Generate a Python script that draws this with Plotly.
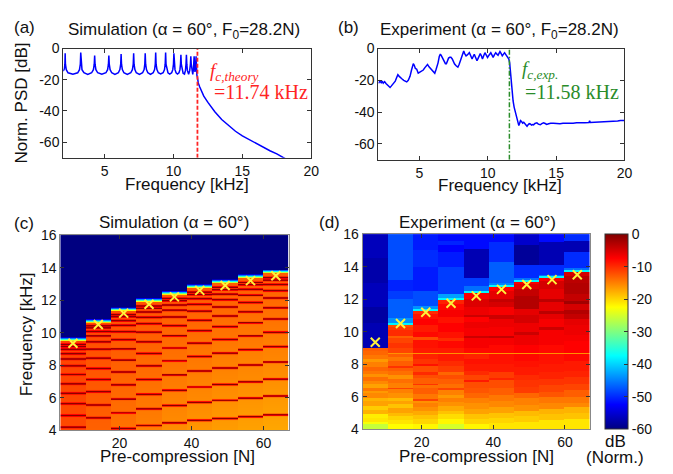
import math
import numpy as np
import plotly.graph_objects as go

W, H = 673, 474


def px(x):
    return x / W


def py(y):
    return 1 - y / H


# ---------------- panel (a): simulated PSD ----------------
sim_psd_freq_kHz = [
    2.00, 2.08, 2.12, 2.14, 2.16, 2.22, 2.35, 2.70, 3.05, 3.18, 3.24, 3.27, 3.30, 3.36,
    3.50, 3.78, 4.06, 4.19, 4.25, 4.28, 4.31, 4.37, 4.50, 4.80, 5.10, 5.22, 5.28, 5.31,
    5.34, 5.40, 5.52, 5.75, 6.00, 6.11, 6.17, 6.20, 6.23, 6.29, 6.40, 6.65, 6.90, 7.02,
    7.08, 7.11, 7.14, 7.20, 7.30, 7.53, 7.76, 7.87, 7.92, 7.95, 7.98, 8.04, 8.14, 8.33,
    8.53, 8.63, 8.68, 8.71, 8.74, 8.80, 8.90, 9.07, 9.25, 9.35, 9.40, 9.43, 9.46, 9.52,
    9.60, 9.73, 9.87, 9.95, 10.00, 10.03, 10.06, 10.11, 10.19, 10.29, 10.40, 10.47,
    10.51, 10.54, 10.57, 10.62, 10.70, 10.80, 10.87, 10.91, 10.94, 10.97, 11.01, 11.10,
    11.18, 11.23, 11.26, 11.29, 11.33, 11.40, 11.45, 11.48, 11.50, 11.52, 11.56, 11.60,
    11.64, 11.67, 11.70, 11.74, 11.75, 11.80, 11.90, 12.00, 12.20, 12.50, 12.75, 13.00,
    13.50, 14.00, 14.50, 15.00, 15.50, 16.00, 16.50, 17.00, 17.50, 18.00, 18.30,
]
sim_psd_db = [
    -14.5, -13.0, -10.0, -3.0, -10.0, -13.5, -15.5, -16.5, -15.5, -13.5, -10.0, -2.5, -10.0, -13.5,
    -15.5, -16.5, -15.5, -13.5, -10.0, -4.5, -10.0, -13.5, -15.5, -16.5, -15.5, -13.5, -10.0, -4.5,
    -10.0, -13.5, -15.5, -16.5, -15.5, -13.5, -10.0, -3.5, -10.0, -13.5, -15.5, -16.5, -15.5, -13.5,
    -10.0, -3.0, -10.0, -13.5, -15.5, -16.5, -15.5, -13.5, -10.0, -3.0, -10.0, -13.5, -15.5, -16.5,
    -15.5, -13.5, -10.0, -2.5, -10.0, -13.5, -15.5, -16.3, -15.5, -13.5, -10.0, -2.5, -10.0, -13.5,
    -15.5, -16.3, -15.5, -13.5, -10.0, -3.0, -10.0, -13.5, -15.5, -16.3, -15.5, -13.5,
    -10.0, -4.0, -10.0, -13.5, -15.8, -16.3, -14.0, -10.0, -4.0, -10.0, -14.0, -16.5,
    -14.0, -10.0, -5.0, -10.0, -14.5, -16.5, -13.0, -9.0, -5.0, -9.0, -15.0, -13.0,
    -5.0, -15.0, -17.0, -18.5, -20.0, -22.0, -24.5, -26.5, -30.5, -34.5, -37.5, -40.5,
    -45.5, -49.5, -53.0, -56.0, -58.5, -61.0, -63.2, -65.5, -67.5, -70.0, -71.5,
]
fc_theory_kHz = 11.74

# ---------------- panel (b): measured PSD ----------------
exp_psd_freq_kHz = [
    2.00, 2.10, 2.20, 2.27, 2.35, 2.45, 2.55, 2.65, 2.75, 2.85, 2.95, 3.05, 3.15, 3.23,
    3.32, 3.42, 3.52, 3.62, 3.71, 3.85, 3.95, 4.07, 4.18, 4.31, 4.42, 4.50, 4.55, 4.62,
    4.70, 4.80, 4.91, 5.00, 5.10, 5.20, 5.28, 5.40, 5.50, 5.59, 5.70, 5.80, 5.88, 6.00,
    6.12, 6.22, 6.30, 6.36, 6.45, 6.53, 6.60, 6.72, 6.82, 6.90, 6.97, 7.05, 7.13, 7.22,
    7.30, 7.40, 7.50, 7.57, 7.70, 7.81, 7.90, 8.00, 8.10, 8.20, 8.24, 8.30, 8.41, 8.50,
    8.58, 8.65, 8.75, 8.85, 8.93, 9.01, 9.10, 9.21, 9.30, 9.38, 9.45, 9.53, 9.61, 9.70,
    9.79, 9.88, 9.98, 10.10, 10.22, 10.30, 10.39, 10.48, 10.58, 10.67, 10.75, 10.82,
    10.89, 10.97, 11.06, 11.15, 11.23, 11.32, 11.42, 11.50, 11.54, 11.60, 11.67, 11.72,
    11.78, 11.85, 11.93, 12.03, 12.12, 12.20, 12.27, 12.33, 12.39, 12.47, 12.55, 12.63,
    12.72, 12.80, 12.87, 12.95, 13.03, 13.11, 13.20, 13.28, 13.35, 13.45, 13.52, 13.59,
    13.70, 13.84, 13.95, 14.08, 14.20, 14.31, 14.45, 14.60, 14.80, 15.00, 15.28, 15.50,
    15.80, 16.00, 16.24, 16.50, 16.80, 17.10, 17.40, 17.45, 17.50, 17.80, 18.10, 18.40,
    18.65, 18.90, 19.20, 19.50, 19.70, 19.86, 20.00,
]
exp_psd_db = [
    -21.9, -20.5, -21.5, -20.5, -21.8, -20.8, -22.0, -23.0, -24.0, -24.5, -23.5, -22.5, -21.5, -20.5,
    -18.5, -16.5, -17.5, -18.5, -19.0, -20.0, -20.5, -21.0, -20.0, -17.5, -13.5, -10.5, -9.5, -10.5,
    -12.5, -13.0, -15.5, -15.0, -14.5, -14.0, -13.5, -12.0, -10.5, -10.0, -11.5, -12.5, -13.0, -14.5,
    -15.5, -13.0, -11.0, -9.0, -5.0, -3.5, -4.5, -6.5, -8.0, -9.5, -9.5, -7.5, -6.0, -5.5,
    -5.5, -6.5, -8.5, -9.7, -11.0, -11.7, -10.0, -7.5, -4.5, -2.0, -1.5, -3.0, -4.6, -4.0,
    -3.0, -2.6, -4.5, -6.6, -5.0, -3.6, -5.5, -7.7, -6.0, -4.0, -3.2, -4.5, -6.6, -4.5,
    -2.6, -4.0, -5.6, -4.0, -2.6, -4.0, -5.6, -4.0, -2.6, -3.5, -4.2, -3.0,
    -1.9, -3.0, -4.6, -3.5, -2.6, -3.8, -5.2, -6.0, -6.6, -9.0, -15.8, -22.0,
    -28.0, -33.0, -37.0, -40.3, -44.0, -46.5, -48.5, -47.0, -45.4, -46.0, -47.0, -46.4,
    -47.5, -48.2, -48.9, -48.0, -47.3, -47.5, -48.2, -47.8, -48.0, -47.2, -46.8, -46.8,
    -47.6, -48.0, -47.3, -46.8, -47.2, -47.8, -47.4, -47.0, -47.0, -47.3, -47.4, -47.1,
    -47.2, -47.0, -47.0, -46.8, -46.9, -46.7, -46.6, -45.5, -46.6, -46.5, -46.4, -46.3,
    -46.2, -46.0, -45.8, -45.6, -45.3, -45.4, -45.3,
]
fc_exp_kHz = 11.58

# ---------------- panels (c)/(d): spectrogram maps ----------------
precomp_N = [7.05, 14.1, 21.15, 28.2, 35.25, 42.3, 49.35, 56.4, 63.45]
cutoff_theory_kHz = [9.35, 10.5, 11.2, 11.75, 12.2, 12.6, 12.9, 13.2, 13.5]

# simulation: top of pass band, pass-band level (bottom/top) and resonance lines
sim_edge_kHz = [9.47, 10.6, 11.32, 11.88, 12.33, 12.73, 13.04, 13.35, 13.64]
sim_base_low_db = [-11.8, -13.2, -14.2, -15.0, -15.8, -16.3, -16.7, -17.0, -17.3]
sim_base_high_db = [-11.5, -12.0, -12.3, -12.5, -12.7, -12.8, -13.0, -13.0, -13.0]
sim_mode_kHz = [
    [4.17, 4.89, 5.62, 6.26, 6.85, 7.42, 7.95, 8.38, 8.70, 8.96, 9.15, 9.27],
    [4.75, 5.54, 6.36, 7.11, 7.79, 8.43, 8.97, 9.43, 9.79, 10.07, 10.29, 10.41],
    [4.09, 5.06, 5.91, 6.79, 7.58, 8.31, 8.99, 9.56, 10.06, 10.44, 10.74, 10.98, 11.10],
    [4.28, 5.31, 6.20, 7.11, 7.95, 8.71, 9.43, 10.03, 10.54, 10.94, 11.26, 11.50, 11.64],
    [4.45, 5.51, 6.44, 7.39, 8.26, 9.05, 9.80, 10.42, 10.96, 11.37, 11.70, 11.96, 12.09],
    [4.60, 5.70, 6.65, 7.64, 8.53, 9.35, 10.12, 10.76, 11.31, 11.74, 12.08, 12.35, 12.49],
    [4.71, 5.83, 6.81, 7.82, 8.73, 9.57, 10.36, 11.02, 11.58, 12.02, 12.37, 12.64, 12.78],
    [4.82, 5.97, 6.97, 8.00, 8.94, 9.79, 10.60, 11.27, 11.85, 12.30, 12.66, 12.94, 13.08],
    [4.93, 6.10, 7.13, 8.18, 9.14, 10.02, 10.84, 11.53, 12.12, 12.58, 12.95, 13.23, 13.38],
]

# experiment: per column, bands of (start frequency kHz, level dB)
exp_bands_db = [
    [(4.0, -26), (4.3, -23), (4.45, -21), (4.7, -21.5), (4.96, -18), (5.2, -19.5), (5.45, -17),
     (5.75, -18), (5.95, -15.5), (6.2, -16.5), (6.35, -14.5), (6.55, -17), (6.8, -15.5), (6.95, -14),
     (7.2, -16), (7.4, -14.5), (7.6, -13.5), (7.85, -15), (8.1, -16.5), (8.35, -14.5), (8.55, -13.5),
     (8.8, -13), (9.03, -57), (10.5, -58), (11.5, -56.5), (13.0, -57.5), (14.5, -56.5)],
    [(4.0, -22.5), (4.3, -21), (4.55, -20), (4.8, -18.5), (5.0, -17), (5.3, -19), (5.55, -17),
     (5.75, -18.5), (5.95, -16), (6.25, -15), (6.45, -11.5), (6.55, -15), (6.85, -14), (7.1, -16),
     (7.3, -14), (7.6, -13), (7.75, -10.5), (7.9, -13), (8.2, -14.5), (8.45, -13), (8.6, -16),
     (8.7, -11.5), (9.0, -10.5), (9.3, -11.5), (9.6, -13), (9.75, -10), (10.1, -11), (10.3, -12),
     (10.43, -38), (10.55, -44), (10.85, -47), (12.0, -49), (12.5, -50.5), (13.2, -48)],
    [(4.0, -22), (4.3, -20), (4.6, -19), (4.85, -17.5), (5.1, -16), (5.35, -15), (5.6, -16),
     (5.75, -11.5), (5.85, -14.5), (6.15, -13), (6.5, -14), (6.7, -10.5), (6.8, -13), (7.15, -12),
     (7.35, -10), (7.55, -12), (7.9, -8.5), (8.0, -10.5), (8.3, -9.5), (8.6, -16), (8.7, -9),
     (9.0, -8.5), (9.5, -12), (9.65, -8), (10.0, -9), (10.4, -7.5), (10.8, -8.5), (11.1, -10),
     (11.28, -38), (11.4, -44), (11.6, -48), (12.5, -51), (14.0, -50), (15.0, -51)],
    [(4.0, -25), (4.3, -22), (4.6, -20.5), (4.9, -19), (5.1, -17.5), (5.4, -16), (5.65, -15),
     (5.9, -16.5), (6.1, -15), (6.4, -11.5), (6.5, -14), (6.8, -13), (7.1, -12), (7.3, -13.5),
     (7.55, -11), (7.9, -10), (8.2, -9), (8.6, -16), (8.7, -9), (9.0, -8), (9.4, -10), (9.6, -8.5),
     (10.0, -7.5), (10.5, -8.5), (10.9, -7), (11.3, -8), (11.7, -9.5), (11.92, -38), (12.05, -43),
     (12.3, -49), (14.0, -51), (14.9, -52.5), (15.3, -50.5), (15.6, -52)],
    [(4.0, -22), (4.35, -20), (4.6, -19), (4.9, -17), (5.25, -16), (5.6, -15), (5.9, -13.5),
     (6.2, -12.5), (6.5, -12), (6.9, -9), (7.0, -11.5), (7.3, -10), (7.6, -9), (8.0, -8.5),
     (8.3, -9.5), (8.6, -16), (8.7, -8), (9.0, -7), (9.6, -4.5), (9.75, -7), (10.2, -6.5),
     (10.6, -7.5), (10.9, -4.5), (11.05, -6.5), (11.5, -5.5), (12.0, -7), (12.38, -38),
     (12.5, -46), (12.8, -49), (13.3, -57), (15.1, -52)],
    [(4.0, -21), (4.4, -20), (4.7, -19), (5.0, -17), (5.35, -15.5), (5.7, -14.5), (6.1, -13),
     (6.5, -12), (7.0, -9.5), (7.15, -11), (7.5, -9), (8.0, -8.5), (8.6, -16), (8.7, -8), (9.2, -7),
     (9.6, -4), (9.75, -7), (10.3, -6.5), (10.8, -4.5), (11.0, -7), (11.5, -5), (11.8, -4),
     (12.0, -6), (12.5, -7.5), (12.72, -38), (12.85, -45), (13.0, -47), (14.3, -50), (15.5, -52)],
    [(4.0, -21), (4.45, -19.5), (4.8, -18.5), (5.15, -16), (5.5, -15), (5.9, -13.5), (6.2, -11),
     (6.6, -10.5), (7.0, -10), (7.35, -9), (7.8, -8.5), (8.2, -8), (8.6, -16), (8.7, -7.5),
     (9.2, -6.5), (9.8, -4.5), (10.0, -6.5), (10.5, -5), (11.0, -6), (11.4, -3), (12.2, -4),
     (12.6, -5.5), (12.9, -7), (13.07, -38), (13.2, -46), (13.3, -50), (14.1, -58.5), (15.3, -55.5)],
    [(4.0, -21), (4.55, -19), (4.9, -18), (5.25, -15.5), (5.6, -14.5), (6.0, -12.5), (6.3, -11.5),
     (6.7, -10.5), (7.1, -9.5), (7.5, -9), (8.0, -8.5), (8.6, -16), (8.7, -8), (9.2, -7),
     (10.1, -4.5), (10.3, -7), (10.8, -6), (11.1, -3.5), (11.25, -6), (11.8, -3.5), (12.0, -6),
     (12.6, -5), (13.1, -7), (13.31, -38), (13.45, -46), (13.5, -50), (14.1, -57), (15.5, -52)],
    [(4.0, -21), (4.65, -19), (5.0, -18), (5.35, -15.5), (5.6, -14.5), (6.0, -13), (6.4, -11.5),
     (6.8, -10.5), (7.2, -9.5), (7.6, -9), (8.2, -8), (8.6, -16), (8.7, -7.5), (9.4, -7), (9.8, -6.5),
     (10.4, -6), (10.8, -4), (11.1, -3), (11.3, -5), (11.7, -2), (11.9, -4), (12.3, -3), (13.0, -3.5),
     (13.4, -5), (13.67, -38), (13.8, -46), (13.9, -50), (14.9, -57), (15.6, -50)],
]

freq_grid_kHz = np.round(np.arange(4.01, 16.0, 0.02), 3)

# build simulation map
sim_z = []
for f in freq_grid_kHz:
    row = []
    for c in range(len(precomp_N)):
        edge = sim_edge_kHz[c]
        if f > edge + 0.25:
            v = -60.0
        elif f > edge:
            v = -18.0 - (f - edge) / 0.25 * 42.0
        else:
            lo, hi = sim_base_low_db[c], sim_base_high_db[c]
            base = lo + (hi - lo) * (f - 4.0) / (edge - 4.0)
            v = base
            for m in sim_mode_kHz[c]:
                v = max(v, base + (-0.5 - base) * math.exp(-((f - m) / 0.06) ** 2))
        row.append(v)
    sim_z.append(row)

# build experiment map
exp_z = []
for f in freq_grid_kHz:
    row = []
    for c in range(len(precomp_N)):
        v = exp_bands_db[c][0][1]
        for f0, db in exp_bands_db[c]:
            if f >= f0:
                v = db
        row.append(v)
    exp_z.append(row)

jet = [[0.0, 'rgb(0,0,128)'], [0.125, 'rgb(0,0,255)'], [0.375, 'rgb(0,255,255)'],
       [0.625, 'rgb(255,255,0)'], [0.875, 'rgb(255,0,0)'], [1.0, 'rgb(128,0,0)']]

SANS = 'Liberation Sans, Arial, sans-serif'
SERIF = 'Liberation Serif, Times New Roman, serif'
AX = '#333333'
BLUE = '#0000FF'
RED = '#FF2424'
GREEN = '#2A8C2A'

fig = go.Figure()

fig.add_trace(go.Scatter(x=sim_psd_freq_kHz, y=sim_psd_db, mode='lines',
                         line=dict(color=BLUE, width=1.5), xaxis='x', yaxis='y', showlegend=False))
fig.add_trace(go.Scatter(x=[fc_theory_kHz, fc_theory_kHz], y=[-70, 0], mode='lines',
                         line=dict(color=RED, width=1.8, dash='4px,2px'), xaxis='x', yaxis='y',
                         showlegend=False))
fig.add_trace(go.Scatter(x=exp_psd_freq_kHz, y=exp_psd_db, mode='lines',
                         line=dict(color=BLUE, width=1.5), xaxis='x2', yaxis='y2', showlegend=False))
fig.add_trace(go.Scatter(x=[fc_exp_kHz, fc_exp_kHz], y=[-70, 0], mode='lines',
                         line=dict(color=GREEN, width=1.5, dash='5px,2px,1.5px,2px'),
                         xaxis='x2', yaxis='y2', showlegend=False))

fig.add_trace(go.Heatmap(x=precomp_N, y=freq_grid_kHz, z=sim_z, zmin=-60, zmax=0,
                         colorscale=jet, showscale=False, xaxis='x3', yaxis='y3'))
fig.add_trace(go.Scatter(x=precomp_N, y=cutoff_theory_kHz, mode='markers',
                         marker=dict(symbol='x-thin', size=9, line=dict(color='#FFF23A', width=2)),
                         xaxis='x3', yaxis='y3', showlegend=False))

fig.add_trace(go.Heatmap(x=precomp_N, y=freq_grid_kHz, z=exp_z, zmin=-60, zmax=0,
                         colorscale=jet, xaxis='x4', yaxis='y4',
                         colorbar=dict(x=px(612), xanchor='left', y=py(335), yanchor='middle',
                                       len=202 / H, lenmode='fraction', thickness=23,
                                       thicknessmode='pixels', xpad=0, ypad=0,
                                       tickvals=[0, -10, -20, -30, -40, -50, -60],
                                       ticktext=['0', '-10', '-20', '-30', '-40', '-50', '-60'],
                                       ticks='inside', ticklen=4, tickcolor=AX,
                                       outlinecolor=AX, outlinewidth=1,
                                       tickfont=dict(family=SANS, size=14, color='#111111'))))
fig.add_trace(go.Scatter(x=precomp_N, y=cutoff_theory_kHz, mode='markers',
                         marker=dict(symbol='x-thin', size=9, line=dict(color='#FFF23A', width=2)),
                         xaxis='x4', yaxis='y4', showlegend=False))


def axstyle(**kw):
    d = dict(showline=True, linecolor=AX, linewidth=1, mirror='ticks', ticks='inside',
             ticklen=4, tickcolor=AX, showgrid=False, zeroline=False,
             tickfont=dict(family=SANS, size=14, color='#111111'))
    d.update(kw)
    return d


db_ticks = [0, -20, -40, -60]
db_text = ['0', '-20', '-40', '-60']

fig.update_layout(
    width=W, height=H, margin=dict(l=0, r=0, t=0, b=0),
    paper_bgcolor='white', plot_bgcolor='white',
    xaxis=axstyle(domain=[px(64), px(315)], range=[2, 20], tickvals=[5, 10, 15, 20], anchor='y'),
    yaxis=axstyle(domain=[py(155), py(42)], range=[-70, 0], tickvals=db_ticks, ticktext=db_text,
                  anchor='x'),
    xaxis2=axstyle(domain=[px(383), px(632)], range=[2, 20], tickvals=[5, 10, 15, 20], anchor='y2'),
    yaxis2=axstyle(domain=[py(157), py(42)], range=[-70, 0], tickvals=db_ticks, ticktext=db_text,
                   anchor='x2'),
    xaxis3=axstyle(domain=[px(61), px(292)], range=[3.525, 66.975], tickvals=[20, 40, 60],
                   anchor='y3', linecolor='#888888'),
    yaxis3=axstyle(domain=[py(437), py(235)], range=[4, 16], tickvals=[4, 6, 8, 10, 12, 14, 16],
                   anchor='x3', linecolor='#888888'),
    xaxis4=axstyle(domain=[px(367), px(597)], range=[3.525, 66.975], tickvals=[20, 40, 60],
                   anchor='y4', linecolor='#888888'),
    yaxis4=axstyle(domain=[py(436), py(234)], range=[4, 16], tickvals=[4, 6, 8, 10, 12, 14, 16],
                   anchor='x4', linecolor='#888888'),
)


def note(text, x, y, size=17, family=SANS, color='#111111', angle=0, xanchor='center'):
    fig.add_annotation(text=text, x=px(x), y=py(y), xref='paper', yref='paper', showarrow=False,
                       xanchor=xanchor, yanchor='middle', textangle=angle,
                       font=dict(family=family, size=size, color=color))


note('(a)', 25, 20)
note('Simulation (α = 60°, F<sub>0</sub>=28.2N)', 186, 24)
note('Norm. PSD [dB]', 22, 98, angle=-90)
note('Frequency [kHz]', 189, 183)
note('(b)', 353, 20)
note('Experiment (α = 60°, F<sub>0</sub>=28.2N)', 506, 24)
note('Frequency [kHz]', 506, 184)
note('(c)', 24, 223)
note('Simulation (α = 60°)', 176, 222)
note('Frequency [kHz]', 27, 338, angle=-90)
note('Pre-compression [N]', 180, 464)
note('(d)', 333, 222)
note('Experiment (α = 60°)', 483, 222)
note('Pre-compression [N]', 482, 464)
note('dB', 623, 449)
note('(Norm.)', 622, 465)

note('<i>f</i><sub><i>c,theory</i></sub>', 211, 66, size=19, family=SERIF, color=RED, xanchor='left')
note('=11.74 kHz', 215, 87, size=20, family=SERIF, color=RED, xanchor='left')
note('<i>f</i><sub><i>c,exp.</i></sub>', 526, 64, size=19, family=SERIF, color=GREEN, xanchor='left')
note('=11.58 kHz', 529, 87, size=20, family=SERIF, color=GREEN, xanchor='left')

fig.write_html('out.html')
